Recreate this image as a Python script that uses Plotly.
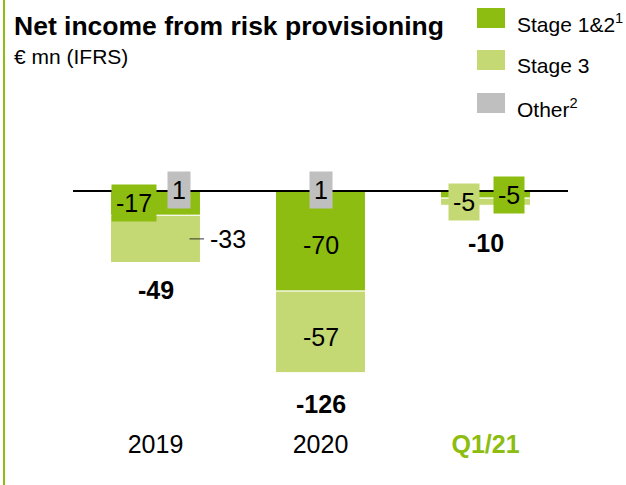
import plotly.graph_objects as go

# ---- data -------------------------------------------------------------
categories = ["2019", "2020", "Q1/21"]
stage12 = [-17, -70, -5]     # Stage 1&2
stage3 = [-33, -57, -5]      # Stage 3
other = [1, 1, 0]            # Other
totals = [-49, -126, -10]    # net income from risk provisioning

# ---- style ------------------------------------------------------------
DARK = "#8CBD10"
LIGHT = "#C4D974"
GREY = "#BFBFBF"
INK = "#000000"
FONT = "Liberation Sans, Arial, sans-serif"
LBL = 25

W, H = 626, 485
ML, MR, MT, MB = 73, 58, 100, 65


def paper_x(px):
    return (px - ML) / (W - ML - MR)


def paper_y(py):
    return 1 - (py - MT) / (H - MT - MB)


fig = go.Figure()
for name, vals, col in [("Stage 1&2", stage12, DARK),
                        ("Stage 3", stage3, LIGHT),
                        ("Other", other, GREY)]:
    fig.add_trace(go.Bar(
        x=categories, y=vals, name=name, showlegend=False,
        marker=dict(color=col, line=dict(color="white", width=1)),
        hoverinfo="skip",
    ))

ann = []

# per-category label placement (pixel shifts)
s12_xshift = [-22, 0, 23.5]
s12_yshift = [0, -4, 0]
other_xshift = [23.5, 0, 0]
total_drop = [27.5, 31, 38]

for i, c in enumerate(categories):
    # Stage 1&2 label, centred on its segment
    ann.append(dict(x=i, y=stage12[i] / 2, text=str(stage12[i]),
                    showarrow=False, xshift=s12_xshift[i], yshift=s12_yshift[i],
                    bgcolor=DARK, borderpad=4,
                    font=dict(size=LBL, color=INK, family=FONT)))
    # Other label sits on the zero line
    if other[i] != 0:
        ann.append(dict(x=i, y=other[i], text=str(other[i]),
                        showarrow=False, xshift=other_xshift[i],
                        bgcolor=GREY, borderpad=4,
                        font=dict(size=LBL, color=INK, family=FONT)))
    # total below the stack
    bottom = stage12[i] + stage3[i]
    ann.append(dict(x=i, y=bottom, text="<b>%d</b>" % totals[i],
                    showarrow=False, yanchor="middle", yshift=-total_drop[i],
                    font=dict(size=LBL, color=INK, family=FONT)))

# Stage 3 labels
mid3 = [stage12[i] + stage3[i] / 2 for i in range(3)]
ann.append(dict(x=0, y=mid3[0], text=str(stage3[0]),
                showarrow=True, arrowhead=0, arrowwidth=1, arrowcolor="#333333",
                xshift=34, ax=38, ay=0, borderpad=5,
                font=dict(size=LBL, color=INK, family=FONT)))
ann.append(dict(x=1, y=mid3[1], text=str(stage3[1]),
                showarrow=False, yshift=-5, bgcolor=LIGHT, borderpad=4,
                font=dict(size=LBL, color=INK, family=FONT)))
ann.append(dict(x=2, y=mid3[2], text=str(stage3[2]),
                showarrow=False, xshift=-22, bgcolor=LIGHT, borderpad=4,
                font=dict(size=LBL, color=INK, family=FONT)))

# title block
ann.append(dict(xref="paper", yref="paper", x=paper_x(12), y=paper_y(26),
                xanchor="left", yanchor="middle", showarrow=False,
                text="<b>Net income from risk provisioning</b>",
                font=dict(size=26.5, color=INK, family=FONT)))
ann.append(dict(xref="paper", yref="paper", x=paper_x(12), y=paper_y(56),
                xanchor="left", yanchor="middle", showarrow=False,
                text="€ mn (IFRS)",
                font=dict(size=21, color=INK, family=FONT)))

# legend
shapes = []
legend_items = [("Stage 1&2<sup>1</sup>", DARK, 18),
                ("Stage 3", LIGHT, 60),
                ("Other<sup>2</sup>", GREY, 103)]
for label, col, cy in legend_items:
    shapes.append(dict(type="rect", xref="paper", yref="paper",
                       x0=paper_x(477), x1=paper_x(505),
                       y0=paper_y(cy - 10), y1=paper_y(cy + 10),
                       fillcolor=col, line=dict(width=0)))
    ann.append(dict(xref="paper", yref="paper", x=paper_x(515), y=paper_y(cy + 5),
                    xanchor="left", yanchor="middle", showarrow=False,
                    text=label, font=dict(size=21, color=INK, family=FONT)))

# zero line
shapes.append(dict(type="line", xref="paper", yref="y", x0=0, x1=1, y0=0, y1=0,
                   line=dict(color=INK, width=2), layer="above"))
# green rule down the left edge
shapes.append(dict(type="line", xref="paper", yref="paper",
                   x0=paper_x(4), x1=paper_x(4), y0=paper_y(0), y1=paper_y(H),
                   line=dict(color=DARK, width=2)))

fig.update_layout(
    width=W, height=H,
    margin=dict(l=ML, r=MR, t=MT, b=MB),
    barmode="relative", bargap=0.455,
    paper_bgcolor="white", plot_bgcolor="white",
    font=dict(family=FONT, color=INK),
    annotations=ann, shapes=shapes,
    xaxis=dict(
        type="category",
        range=[-0.5, 2.5], showgrid=False, showline=False, zeroline=False,
        ticks="", tickmode="array", tickvals=categories,
        ticklabelstandoff=7,
        ticktext=["2019", "2020", "<b><span style='color:%s'>Q1/21</span></b>" % DARK],
        tickfont=dict(size=LBL, color=INK, family=FONT),
    ),
    yaxis=dict(range=[-160.1, 63.6], visible=False, fixedrange=True),
)

fig.write_html("out.html")
